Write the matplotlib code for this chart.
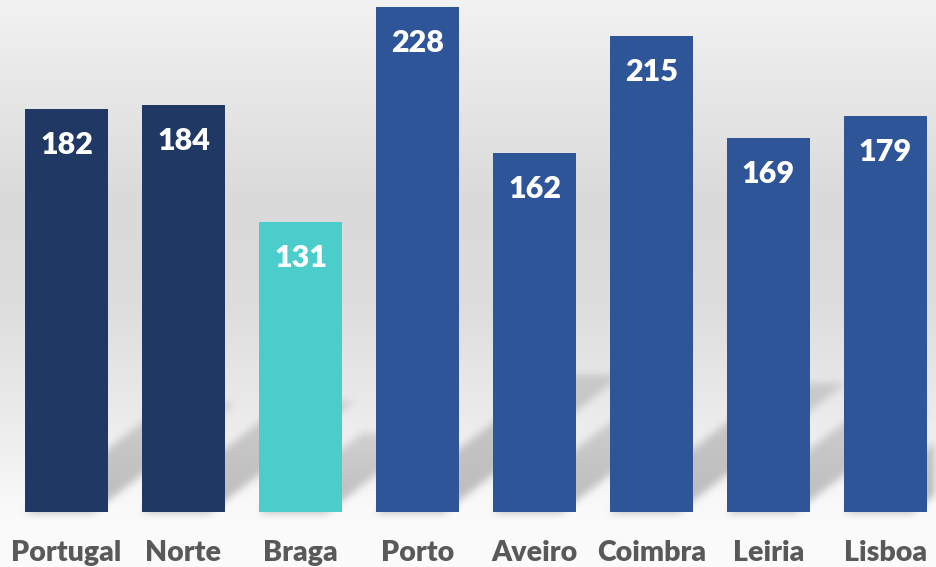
import numpy as np
import matplotlib
matplotlib.use("Agg")
import matplotlib.pyplot as plt
from matplotlib import font_manager

categories = ["Portugal", "Norte", "Braga", "Porto", "Aveiro", "Coimbra", "Leiria", "Lisboa"]
values = [182, 184, 131, 228, 162, 215, 169, 179]
colors = ["#1F3864", "#1F3864", "#4BCDCB", "#2E5597", "#2E5597", "#2E5597", "#2E5597", "#2E5597"]

print(sorted({f.name + ":" + str(f.weight) for f in font_manager.fontManager.ttflist if f.name in ("Lato", "Open Sans", "Noto Sans", "Roboto", "Inter")}))

W, H, DPI = 936, 567, 100
fig = plt.figure(figsize=(W / DPI, H / DPI), dpi=DPI)

rows = np.arange(H)
stops_y = [0, 60, 200, 300, 430, 510, 567]
stops_v = [0.95, 0.92, 0.855, 0.865, 0.93, 0.98, 0.985]
col = np.interp(rows, stops_y, stops_v)
bg = np.repeat(col[:, None], W, axis=1)

ax = fig.add_axes([0, 55 / H, 1, 1 - 55 / H])
ax.set_xlim(-0.568, 7.432)
ax.set_ylim(0, 231.2)
ax.axis("off")
ax.patch.set_alpha(0)
bar_w = 0.71
x = np.arange(len(categories))

fig.canvas.draw()
shadow = np.zeros((H, W))
k, ox, frac = 1.3, 0.0, 0.27
for xi, v in zip(x, values):
    (lx, by) = ax.transData.transform((xi - bar_w / 2, 0))
    (rx, ty) = ax.transData.transform((xi + bar_w / 2, v))
    L, R = lx, rx
    B = H - by
    hpx = (ty - by) * frac
    for r in range(int(B - hpx), int(B) + 1):
        up = B - r
        t = up / hpx
        s = ox + k * up
        a0, a1 = int(round(L + s)), int(round(R + s - 15))
        a0, a1 = max(a0, 0), min(a1, W)
        if a1 > a0 and 0 <= r < H:
            shadow[r, a0:a1] = np.maximum(shadow[r, a0:a1], 1.0 - 0.5 * t)

def box_blur(a, n):
    ker = np.ones(n) / n
    a = np.apply_along_axis(lambda m: np.convolve(m, ker, mode="same"), 0, a)
    a = np.apply_along_axis(lambda m: np.convolve(m, ker, mode="same"), 1, a)
    return a

shadow = box_blur(box_blur(shadow, 9), 9)
img = bg * (1 - 0.25 * np.clip(shadow, 0, 1))
bgax = fig.add_axes([0, 0, 1, 1], zorder=-1)
bgax.imshow(np.dstack([img, img, img]), aspect="auto", extent=[0, 1, 0, 1])
bgax.axis("off")

ax.bar(x, values, width=bar_w, color=colors, zorder=3)
for xi, v in zip(x, values):
    ax.annotate(str(v), (xi, v), xytext=(0, -36), textcoords="offset pixels",
                ha="center", va="center", color="white", fontsize=22,
                fontweight="heavy", family="Lato", zorder=4)
for xi, c in zip(x, categories):
    ax.annotate(c, (xi, 0), xytext=(0, -41), textcoords="offset pixels",
                ha="center", va="center", color="#595959", fontsize=20.5,
                fontweight="heavy", family="Lato", annotation_clip=False)

fig.savefig("out.png", dpi=DPI)
